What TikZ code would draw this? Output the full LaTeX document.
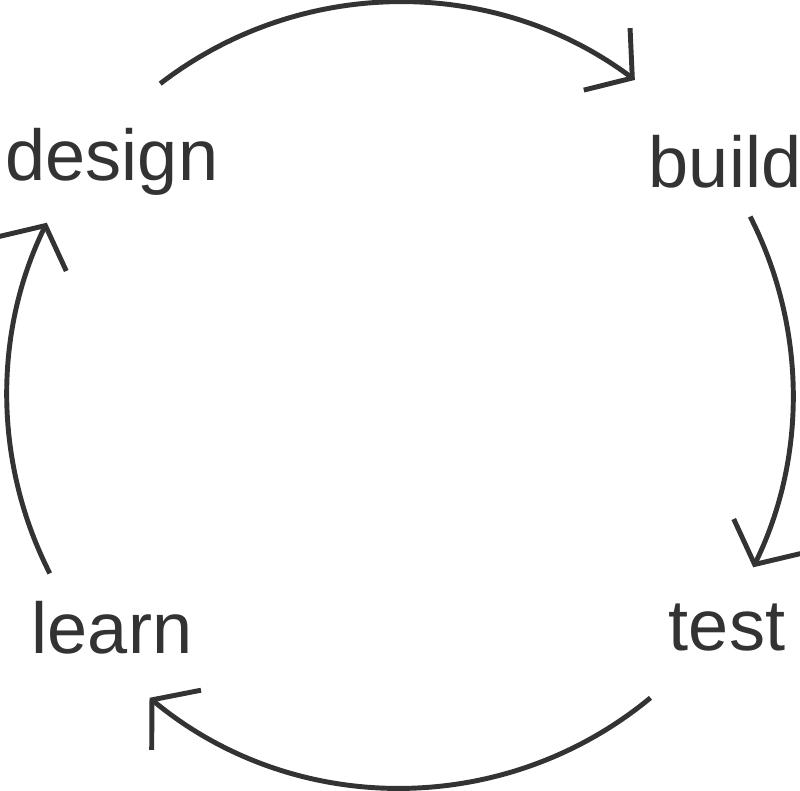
\documentclass[tikz,border=0pt]{standalone}
\usepackage{fontspec}
\setmainfont{Liberation Sans}
\usetikzlibrary{arrows.meta}
\begin{document}
\begin{tikzpicture}[x=0.01cm,y=-0.01cm,
  cyc/.style={draw=black!80,line width=1.4pt,-{Straight Barb[length=9pt,width=22pt,line width=1.4pt]}},
  lab/.style={text=black!80,font=\fontsize{20.5}{24}\selectfont,inner sep=0pt}]
\useasboundingbox (0,0) rectangle (800,790);
\coordinate (c) at (400,395);
\node[lab] (design) at (112,162) {design};
\node[lab] (build) at (725,162) {build};
\node[lab] (test) at (727,628) {test};
\node[lab] (learn) at (112,628) {learn};
\draw[cyc] ([shift={(-127.6:393)}]c) arc[start angle=-127.6,end angle=-53.3,radius=393];
\draw[cyc] ([shift={(-27:393)}]c) arc[start angle=-27,end angle=26,radius=393];
\draw[cyc] ([shift={(50.4:393)}]c) arc[start angle=50.4,end angle=129.6,radius=393];
\draw[cyc] ([shift={(153:393)}]c) arc[start angle=153,end angle=206,radius=393];
\end{tikzpicture}
\end{document}
